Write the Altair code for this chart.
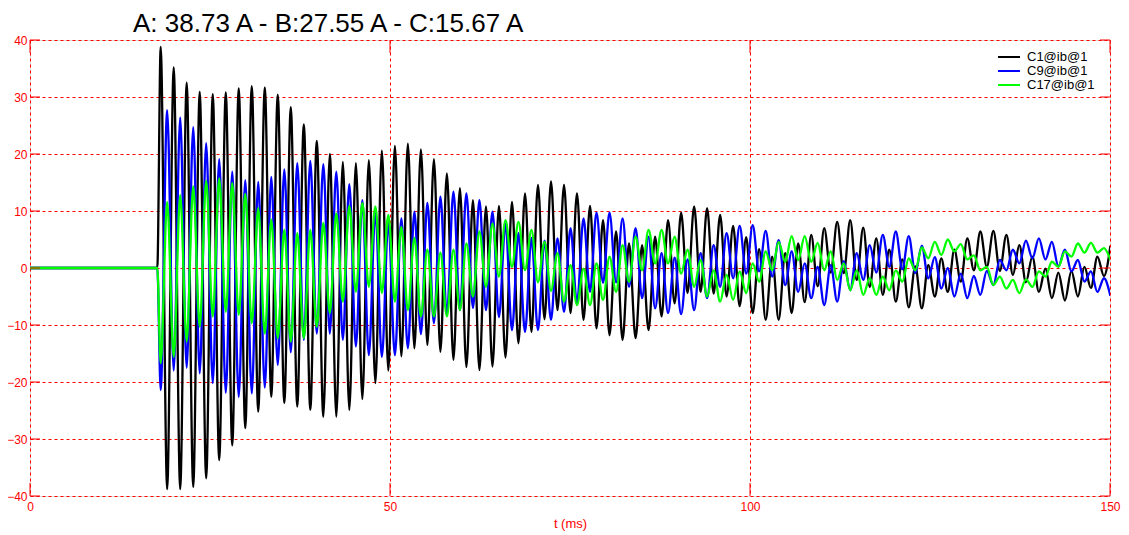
import altair as alt
import pandas as pd

# Extremum times (ms) (one every half cycle)
t_ms = [18.15, 19.05, 19.96, 20.86, 21.76, 22.67, 23.57, 24.47, 25.38, 26.28,
        27.19, 28.09, 28.99, 29.90, 30.80, 31.70, 32.61, 33.51, 34.41, 35.32,
        36.22, 37.12, 38.03, 38.93, 39.83, 40.74, 41.64, 42.54, 43.45, 44.35,
        45.26, 46.16, 47.06, 47.97, 48.87, 49.77, 50.68, 51.58, 52.48, 53.39,
        54.29, 55.19, 56.10, 57.00, 57.90, 58.81, 59.71, 60.61, 61.52, 62.42,
        63.33, 64.23, 65.13, 66.04, 66.94, 67.84, 68.75, 69.65, 70.55, 71.46,
        72.36, 73.26, 74.17, 75.07, 75.97, 76.88, 77.78, 78.68, 79.59, 80.49,
        81.40, 82.30, 83.20, 84.11, 85.01, 85.91, 86.82, 87.72, 88.62, 89.53,
        90.43, 91.33, 92.24, 93.14, 94.04, 94.95, 95.85, 96.75, 97.66, 98.56,
        99.47, 100.37, 101.27, 102.18, 103.08, 103.98, 104.89, 105.79, 106.69, 107.60,
        108.50, 109.40, 110.31, 111.21, 112.11, 113.02, 113.92, 114.82, 115.73, 116.63,
        117.54, 118.44, 119.34, 120.25, 121.15, 122.05, 122.96, 123.86, 124.76, 125.67,
        126.57, 127.47, 128.38, 129.28, 130.18, 131.09, 131.99, 132.89, 133.80, 134.70,
        135.61, 136.51, 137.41, 138.32, 139.22, 140.12, 141.03, 141.93, 142.83, 143.74,
        144.64, 145.54, 146.45, 147.35, 148.25, 149.16, 150.06]

# C1@ib@1 (black)
c1 = [38.8, -38.8, 35.2, -38.8, 32.5, -38.4, 30.9, -36.9, 30.5, -33.7,
      30.8, -31.1, 31.5, -28.1, 31.9, -25.2, 31.7, -22.6, 30.4, -23.7,
      28.2, -24.3, 25.2, -24.9, 22.3, -26.1, 20.0, -26.1, 18.6, -24.9,
      18.4, -23.0, 18.9, -20.2, 20.6, -18.0, 21.4, -15.5, 21.8, -14.1,
      20.8, -13.5, 19.1, -14.7, 16.6, -16.1, 14.0, -17.4, 11.9, -17.9,
      10.8, -17.3, 10.9, -15.7, 11.6, -13.2, 13.1, -11.2, 14.6, -9.0,
      15.2, -7.4, 14.6, -7.9, 13.1, -9.1, 10.9, -10.6, 8.4, -11.8,
      6.4, -12.6, 4.3, -12.3, 4.0, -10.9, 5.5, -8.5, 8.4, -6.2,
      9.7, -4.4, 10.8, -4.2, 10.5, -4.5, 9.3, -5.0, 7.4, -6.7,
      5.4, -7.9, 3.3, -9.1, 2.0, -9.1, 2.6, -7.9, 4.3, -6.0,
      5.8, -3.2, 7.0, -0.8, 8.1, -0.9, 8.4, -2.1, 7.1, -3.3,
      5.2, -4.7, 3.2, -5.9, 1.5, -6.9, 0.3, -7.1, 0.5, -5.0,
      1.7, -4.2, 3.2, -2.4, 5.2, -0.4, 6.4, 0.2, 6.5, -0.5,
      5.8, -1.2, 4.0, -2.5, 2.0, -4.2, -0.1, -5.3, -0.8, -5.7,
      -0.5, -5.0, 0.2, -3.5, 2.0, -1.4, 3.9]

# C9@ib@1 (blue)
c9 = [-21.4, 27.7, -18.0, 26.4, -17.5, 24.7, -18.5, 21.9, -20.2, 19.1,
      -21.9, 16.9, -22.6, 15.4, -22.0, 15.1, -21.0, 16.0, -17.0, 17.3,
      -14.8, 18.4, -12.6, 18.8, -11.5, 18.2, -11.5, 16.9, -12.6, 14.7,
      -13.8, 11.9, -15.3, 9.9, -15.6, 8.1, -15.3, 8.7, -14.1, 9.9,
      -11.6, 11.4, -9.7, 12.5, -8.2, 13.4, -7.4, 13.1, -7.0, 11.9,
      -7.4, 9.9, -8.6, 7.8, -10.9, 6.1, -11.2, 5.3, -10.9, 4.8,
      -9.1, 5.2, -7.7, 7.0, -6.2, 8.7, -4.2, 9.7, -2.6, 9.7,
      -2.5, 8.7, -3.3, 7.0, -5.3, 5.5, -7.1, 2.6, -7.9, 1.8,
      -8.1, 1.5, -7.4, 2.6, -5.3, 4.0, -3.3, 6.1, -1.8, 7.4,
      -1.0, 7.5, -0.6, 6.5, -1.5, 4.9, -3.0, 2.9, -4.2, 0.8,
      -5.3, 0.2, -6.5, 0.5, -5.9, 1.2, -3.9, 2.6, -2.1, 4.0,
      -0.8, 5.8, 0.2, 6.4, -0.2, 5.6, -0.9, 3.9, -1.8, 1.9,
      -3.6, 0.0, -5.0, -1.0, -5.3, -1.4, -4.7, -0.5, -3.0, 1.4,
      -0.4, 3.2, 0.8, 4.8, 1.7, 5.2, 1.5, 4.6, 0.3, 3.2,
      -0.6, 1.4, -2.4, -0.6, -4.2, -1.8, -4.9]

# C17@ib@1 (green)
c17 = [-16.7, 11.6, -15.6, 12.8, -12.9, 14.3, -10.3, 15.3, -8.5, 15.7,
       -7.7, 14.9, -8.2, 13.0, -9.7, 10.5, -11.5, 8.5, -12.3, 6.7,
       -12.9, 6.1, -12.3, 6.7, -10.3, 7.9, -7.9, 9.6, -5.9, 10.9,
       -4.2, 11.4, -3.3, 10.8, -4.4, 9.3, -5.9, 7.2, -7.4, 5.3,
       -8.5, 3.2, -8.5, 2.7, -8.5, 3.2, -7.4, 4.3, -5.0, 6.4,
       -3.3, 7.8, -1.5, 8.4, 0.2, 8.1, -0.4, 6.7, -2.5, 4.6,
       -4.0, 2.6, -5.9, 0.5, -6.5, -0.1, -6.5, 0.8, -5.6, 2.0,
       -4.2, 4.0, -2.4, 5.5, -0.4, 6.7, 0.8, 6.7, 0.8, 5.5,
       -1.0, 3.2, -3.3, 1.4, -5.0, -0.4, -5.9, -1.2, -5.6, -0.6,
       -4.4, 0.8, -2.4, 2.9, -0.4, 4.6, 1.1, 5.6, 1.4, 5.6,
       1.1, 4.4, -0.4, 2.9, -2.1, 0.8, -3.9, -0.4, -4.7, -1.8,
       -4.7, -1.5, -3.9, -0.4, -2.4, 1.7, -0.4, 3.6, 1.7, 4.6,
       2.3, 5.0, 2.9, 4.2, 1.5, 2.2, -0.4, 0.2, -3.0, -1.5,
       -3.6, -2.1, -4.4, -2.0, -3.3, -0.6, -1.5, 1.1, 0.2, 2.9,
       2.0, 4.3, 2.7, 4.4, 2.7, 3.5, 1.4]

# flat zero segment before the event
t_pre = [0.0, 17.68]
v_pre = [0.0, 0.0]

names = ["C1@ib@1", "C9@ib@1", "C17@ib@1"]
colors = ["#000000", "#0000ff", "#00ff00"]
x_ticks = [0, 50, 100, 150]
y_ticks = [-40, -30, -20, -10, 0, 10, 20, 30, 40]
title_text = "A: 38.73 A - B:27.55 A - C:15.67 A"

rows = []
for name, vals in zip(names, [c1, c9, c17]):
    for t, v in zip(t_pre, v_pre):
        rows.append({"t": t, "v": v, "s": name})
    for t, v in zip(t_ms, vals):
        rows.append({"t": t, "v": v, "s": name})
df = pd.DataFrame(rows)

RED = "#ff0000"
FONT = "Liberation Sans"

xscale = alt.Scale(domain=[0, 150], nice=False, zero=False)
yscale = alt.Scale(domain=[-40, 40], nice=False, zero=False)

lines = alt.Chart(df).mark_line(interpolate="monotone", strokeWidth=2.3, clip=True).encode(
    x=alt.X("t:Q", scale=xscale,
            axis=alt.Axis(values=x_ticks, title="t (ms)", grid=True, gridDash=[3, 3],
                          gridColor=RED, gridWidth=1, domain=False, ticks=False,
                          labelColor=RED, labelFont=FONT, labelFontSize=12, labelPadding=5,
                          labelFlush=False, titleColor=RED, titleFont=FONT, titleFontSize=13,
                          titleFontWeight="normal", titlePadding=5)),
    y=alt.Y("v:Q", scale=yscale,
            axis=alt.Axis(values=y_ticks, title=None, grid=True, gridDash=[3, 3],
                          gridColor=RED, gridWidth=1, domain=False, ticks=False,
                          labelColor=RED, labelFont=FONT, labelFontSize=12, labelPadding=3,
                          labelFlush=False)),
    color=alt.Color("s:N", scale=alt.Scale(domain=names, range=colors), legend=None),
)

ydf = pd.DataFrame({"v": y_ticks})
xdf = pd.DataFrame({"t": x_ticks})

ytick_l = alt.Chart(ydf).mark_rule(color=RED, strokeWidth=1).encode(
    y=alt.Y("v:Q", scale=yscale), x=alt.value(0), x2=alt.value(10))
ytick_r = alt.Chart(ydf).mark_rule(color=RED, strokeWidth=1).encode(
    y=alt.Y("v:Q", scale=yscale), x=alt.value(1070), x2=alt.value(1080))
xtick_b = alt.Chart(xdf).mark_rule(color=RED, strokeWidth=1).encode(
    x=alt.X("t:Q", scale=xscale), y=alt.value(443), y2=alt.value(456))
xtick_t = alt.Chart(xdf).mark_rule(color=RED, strokeWidth=1).encode(
    x=alt.X("t:Q", scale=xscale), y=alt.value(0), y2=alt.value(13))

title_mark = alt.Chart(pd.DataFrame({"label": [title_text]})).mark_text(
    align="left", baseline="alphabetic", fontSize=26, font=FONT, color="#000000"
).encode(text="label:N", x=alt.value(103), y=alt.value(-8))

# legend (top right, inside the plot frame)
legend_layers = []
for i, (name, col) in enumerate(zip(names, colors)):
    ypix = 17 + 14 * i
    ldf = pd.DataFrame({"label": [name]})
    legend_layers.append(
        alt.Chart(ldf).mark_rule(color=col, strokeWidth=2).encode(
            x=alt.value(968), x2=alt.value(990), y=alt.value(ypix)))
    legend_layers.append(
        alt.Chart(ldf).mark_text(align="left", baseline="middle", fontSize=13,
                                 font=FONT, color="#000000").encode(
            text="label:N", x=alt.value(997), y=alt.value(ypix)))

chart = alt.layer(lines, ytick_l, ytick_r, xtick_b, xtick_t, title_mark,
                  *legend_layers).properties(
    width=1080, height=456,
    autosize="none",
    padding={"left": 22, "top": 32, "right": 11, "bottom": 40},
).configure_view(stroke=RED, strokeWidth=1).configure(background="white")

chart.save("out.html", embed_options={"renderer": "svg", "actions": False})
